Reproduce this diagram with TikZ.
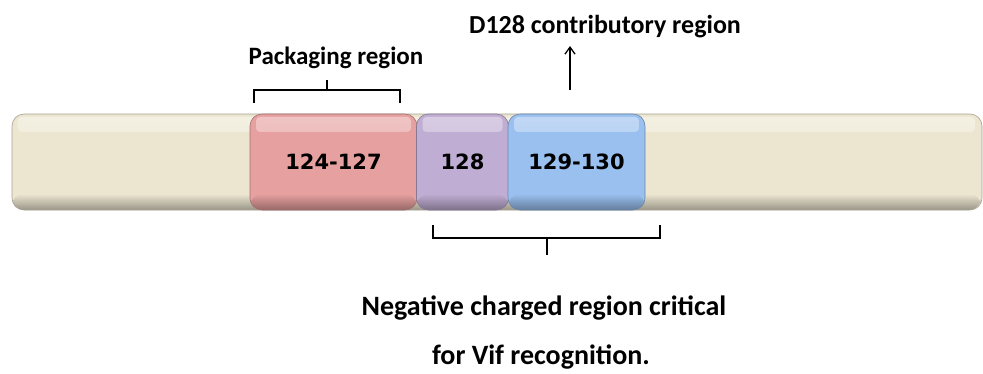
\documentclass[tikz,border=0pt]{standalone}
\usepackage{fontspec}
\setmainfont{Carlito}
\newfontfamily\numfont{DejaVu Sans}
\usetikzlibrary{positioning,arrows.meta,fadings}

\definecolor{barcream}{RGB}{236,230,208}
\definecolor{segpink}{RGB}{230,160,159}
\definecolor{segpurple}{RGB}{192,173,211}
\definecolor{segblue}{RGB}{154,192,239}

\tikzset{
  seg/.style={draw=#1!70!black, line width=0.6pt, fill=#1, rounded corners=12pt,
    minimum height=96pt, inner sep=0pt,
    font=\numfont\bfseries\fontsize{21}{21}\selectfont,
    path picture={
      \fill[white, opacity=0.4, path fading=south, rounded corners=4pt]
        ([xshift=6pt,yshift=-3pt]path picture bounding box.north west)
        rectangle ([xshift=-6pt,yshift=-18pt]path picture bounding box.north east);
      \fill[black, opacity=0.35, path fading=north]
        ([yshift=16pt]path picture bounding box.south west)
        rectangle (path picture bounding box.south east);
    }},
  lbl/.style={font=\bfseries\fontsize{25}{25}\selectfont, inner sep=0pt},
  biglbl/.style={font=\bfseries\fontsize{28}{28}\selectfont, inner sep=0pt},
  brace/.style={line width=1.3pt}
}

\begin{document}
\begin{tikzpicture}[x=1pt, y=-1pt]
  \useasboundingbox (0,0) rectangle (983,373);

  % the chain
  \node[seg=barcream, minimum width=970pt] (bar) at (497,162) {};
  \node[seg=segpink, minimum width=167pt] (pack) at (333.5,162) {124-127};
  \node[seg=segpurple, minimum width=92pt] (d128) at (462.5,162) {128};
  \node[seg=segblue, minimum width=137pt] (tail) at (576.5,162) {129-130};

  % packaging bracket
  \node[lbl] (packlbl) at (336,58) {Packaging region};
  \coordinate (pl) at (254,103);
  \coordinate (pr) at (400,103);
  \coordinate (pm) at (327,90);
  \draw[brace] (pl) |- (pm) -| (pr);
  \draw[brace] (pm) -- ++(0,-10);

  % D128 arrow
  \node[lbl, font=\bfseries\fontsize{26}{26}\selectfont] (contrib) at (605,27) {D128 contributory region};
  \coordinate (arr) at (570,90);
  \draw[line width=1.3pt, -{Straight Barb[length=7pt,width=10pt]}] (arr) -- (arr |- 0,46);

  % negative charge bracket
  \coordinate (nl) at (433,225);
  \coordinate (nr) at (660,225);
  \coordinate (nm) at (547,238);
  \draw[brace] (nl) |- (nm) -| (nr);
  \draw[brace] (nm) -- ++(0,17);
  \node[biglbl] (neg1) at (544,308) {Negative charged region critical};
  \node[biglbl] (neg2) at (541,357) {for Vif recognition.};
\end{tikzpicture}
\end{document}
